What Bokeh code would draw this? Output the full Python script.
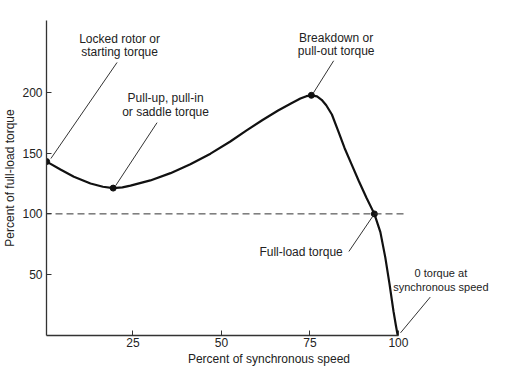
from bokeh.plotting import figure
from bokeh.models import ColumnDataSource, FixedTicker, Range1d
from bokeh.core.properties import value
from bokeh.embed import file_html
from bokeh.resources import INLINE

# Torque-speed curve
speed = [0.6, 4.5, 8.3, 13.0, 16.5, 19.4, 22.0, 24.3, 29.9, 35.6, 41.2, 46.9,
         52.5, 57.0, 61.5, 66.0, 69.5, 72.3, 74.0, 75.4, 77.0, 78.3, 79.6,
         81.2, 83.0, 84.8, 86.8, 88.8, 91.0, 93.2, 94.9, 96.3, 97.5, 98.6,
         99.3, 99.8]
torque = [143.0, 136.5, 130.5, 125.0, 122.3, 121.2, 121.8, 123.2, 127.5,
          133.5, 140.8, 149.5, 159.5, 168.5, 177.0, 185.0, 190.5, 194.8,
          196.8, 197.5, 196.6, 193.8, 189.3, 181.7, 168.0, 154.0, 140.5,
          127.0, 113.0, 100.0, 85.0, 64.0, 42.0, 20.0, 8.0, 0.0]

# Marked points: locked rotor, pull-up, breakdown, full-load
key_speed = [0.6, 19.4, 75.4, 93.2]
key_torque = [143.0, 121.2, 197.5, 100.0]

full_load = 100
full_load_extent = [0, 101.5]

x_ticks = [25, 50, 75, 100]
y_ticks = [50, 100, 150, 200]

# Annotation text lines and their anchor positions
label_lines = ["Locked rotor or", "starting torque",
               "Pull-up, pull-in", "or saddle torque",
               "Breakdown or", "pull-out torque",
               "Full-load torque"]
label_x = [21.2, 21.2, 34.2, 34.2, 82.4, 82.4, 72.5]
label_y = [244.0, 233.5, 195.1, 183.8, 244.6, 233.9, 68.6]

sync_lines = ["0 torque at", "synchronous speed"]
sync_x = [112.0, 112.0]
sync_y = [51.7, 40.0]

# Leader lines
lead_x0 = [20.5, 31.8, 81.7, 86.0, 109.0]
lead_y0 = [224.5, 175.0, 225.9, 69.1, 31.6]
lead_x1 = [1.8, 20.1, 75.9, 93.0, 100.6]
lead_y1 = [145.5, 123.2, 199.1, 99.1, 2.2]

FONT = "Liberation Sans"
INK = "#222222"

p = figure(width=491, height=368, output_backend="svg", toolbar_location=None,
           x_range=Range1d(0.56, 126.3), y_range=Range1d(0, 259),
           min_border_left=46, min_border_right=0, min_border_top=20,
           min_border_bottom=31)
p.outline_line_color = None
p.xgrid.visible = False
p.ygrid.visible = False
p.background_fill_color = "white"

p.line(speed, torque, line_color="#111111", line_width=2.2)
p.scatter(key_speed, key_torque, size=6, color="#111111")

p.line(full_load_extent, [full_load, full_load], line_color="#333333",
       line_width=1, line_dash="7 4")

p.segment(x0=lead_x0, y0=lead_y0, x1=lead_x1, y1=lead_y1,
          line_color="#333333", line_width=1)

src = ColumnDataSource(dict(x=label_x, y=label_y, t=label_lines))
p.text(x="x", y="y", text="t", source=src, text_align="center",
       text_baseline="middle", text_font=value(FONT), text_font_size="12px",
       text_color=INK)

src2 = ColumnDataSource(dict(x=sync_x, y=sync_y, t=sync_lines))
p.text(x="x", y="y", text="t", source=src2, text_align="center",
       text_baseline="middle", text_font=value(FONT), text_font_size="11px",
       text_color=INK)

for ax in (p.xaxis[0], p.yaxis[0]):
    ax.axis_line_color = "#333333"
    ax.axis_line_width = 1.3
    ax.major_tick_line_color = "#333333"
    ax.major_tick_in = 5
    ax.major_tick_out = 0
    ax.minor_tick_line_color = None
    ax.major_label_text_font = FONT
    ax.major_label_text_font_size = "12px"
    ax.major_label_text_color = INK
    ax.axis_label_text_font = FONT
    ax.axis_label_text_font_size = "12px"
    ax.axis_label_text_font_style = "normal"
    ax.axis_label_text_color = INK

p.xaxis.ticker = FixedTicker(ticks=x_ticks)
p.yaxis.ticker = FixedTicker(ticks=y_ticks)
p.xaxis.bounds = (0, 100)
p.xaxis.axis_label = "Percent of synchronous speed"
p.yaxis.axis_label = "Percent of full-load torque"
p.xaxis.major_label_standoff = 2
p.xaxis.axis_label_standoff = 2
p.yaxis.major_label_standoff = 4
p.yaxis.axis_label_standoff = 2

open("out.html", "w").write(file_html(p, INLINE))
